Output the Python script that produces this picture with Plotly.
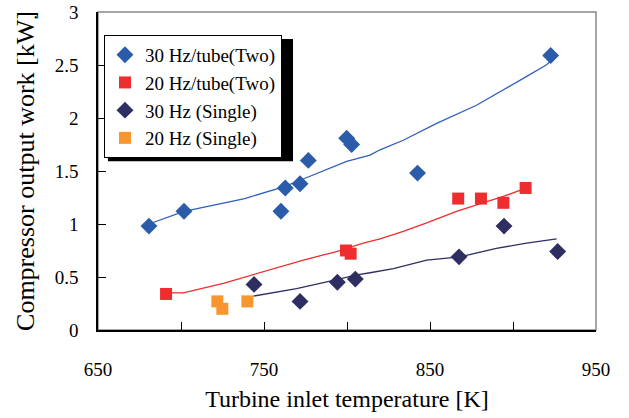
import plotly.graph_objects as go

# ---- data ----
t_30_two = [680.7, 701.8, 760.2, 762.8, 771.7, 776.7, 799.8, 802.8, 842.5, 922.7]
w_30_two = [0.98, 1.12, 1.12, 1.34, 1.38, 1.60, 1.81, 1.75, 1.48, 2.59]
t_20_two = [691.0, 799.4, 802.2, 867.0, 880.7, 894.2, 907.6]
w_20_two = [0.34, 0.75, 0.72, 1.24, 1.24, 1.20, 1.34]
t_30_single = [744.0, 771.7, 794.2, 805.0, 867.5, 894.6, 926.9]
w_30_single = [0.43, 0.27, 0.45, 0.48, 0.69, 0.98, 0.74]
t_20_single = [721.9, 724.9, 740.0]
w_20_single = [0.27, 0.20, 0.27]

# calculated curves
tc_30_two = [680.7, 701.8, 738.4, 761.8, 772.9, 799.8, 813.9, 819.9, 833.9, 854.0, 878.0, 894.0, 908.0, 920.0, 922.3]
wc_30_two = [1.00, 1.12, 1.24, 1.35, 1.42, 1.59, 1.65, 1.70, 1.79, 1.95, 2.12, 2.26, 2.39, 2.50, 2.53]
tc_20_two = [693.4, 701.4, 725.5, 749.6, 773.7, 793.7, 809.8, 819.9, 833.9, 848.0, 866.0, 880.0, 894.2, 906.2]
wc_20_two = [0.35, 0.35, 0.44, 0.55, 0.66, 0.74, 0.82, 0.86, 0.93, 1.01, 1.12, 1.19, 1.26, 1.33]
tc_30_single = [743.6, 769.6, 789.8, 805.9, 813.9, 828.0, 848.0, 868.0, 890.0, 908.2, 926.3]
wc_30_single = [0.32, 0.39, 0.46, 0.52, 0.54, 0.58, 0.66, 0.69, 0.77, 0.82, 0.86]

x_tickvals = [650, 700, 750, 800, 850, 900, 950]
x_ticktext = ["650", "", "750", "", "850", "", "950"]
y_tickvals = [0, 0.5, 1, 1.5, 2, 2.5, 3]
y_ticktext = ["0", "0.5", "1", "1.5", "2", "2.5", "3"]

c_blue = "#2A5CAA"
c_red = "#EE2E2E"
c_navy = "#2E2E62"
c_orange = "#F7962F"

FONT = "Liberation Serif, Times New Roman, serif"

fig = go.Figure()
fig.add_trace(go.Scatter(x=tc_30_two, y=wc_30_two, mode="lines",
                         line=dict(color="#2F5FBF", width=1.3), showlegend=False, hoverinfo="skip"))
fig.add_trace(go.Scatter(x=tc_20_two, y=wc_20_two, mode="lines",
                         line=dict(color="#EE2D2D", width=1.3), showlegend=False, hoverinfo="skip"))
fig.add_trace(go.Scatter(x=tc_30_single, y=wc_30_single, mode="lines",
                         line=dict(color=c_navy, width=1.3), showlegend=False, hoverinfo="skip"))

fig.add_trace(go.Scatter(x=t_30_two, y=w_30_two, mode="markers", name="30 Hz/tube(Two)",
                         marker=dict(symbol="diamond", size=13, color=c_blue)))
fig.add_trace(go.Scatter(x=t_20_two, y=w_20_two, mode="markers", name="20 Hz/tube(Two)",
                         marker=dict(symbol="square", size=12, color=c_red)))
fig.add_trace(go.Scatter(x=t_30_single, y=w_30_single, mode="markers", name="30 Hz (Single)",
                         marker=dict(symbol="diamond", size=13, color=c_navy)))
fig.add_trace(go.Scatter(x=t_20_single, y=w_20_single, mode="markers", name="20 Hz (Single)",
                         marker=dict(symbol="square", size=12, color=c_orange)))

# plot frame (grey top/right) and legend shadow
fig.add_shape(type="rect", xref="paper", yref="paper", x0=0, x1=1, y0=0, y1=1,
              line=dict(color="#888888", width=1.5), layer="below")
fig.add_shape(type="rect", xref="paper", yref="paper", x0=0.020, x1=0.3916, y0=0.531, y1=0.915,
              line=dict(width=0), fillcolor="black", layer="above")

fig.update_layout(
    width=629, height=418,
    margin=dict(l=98, r=33, t=12, b=88, autoexpand=False),
    paper_bgcolor="white", plot_bgcolor="white",
    font=dict(family=FONT, size=19, color="black"),
    legend=dict(x=0.012, y=0.928, xanchor="left", yanchor="top",
                bgcolor="white", bordercolor="black", borderwidth=1,
                font=dict(family=FONT, size=19, color="black"), itemwidth=30, tracegroupgap=0),
    xaxis=dict(range=[650, 950], tickvals=x_tickvals, ticktext=x_ticktext, automargin=False,
               ticks="inside", ticklen=8, tickcolor="black", showgrid=False, zeroline=False,
               showline=True, linecolor="black", linewidth=1.5, ticklabelstandoff=21,
               ticklabeloverflow="allow",
               tickfont=dict(family=FONT, size=19),
               title=dict(text="Turbine inlet temperature [K]", font=dict(family=FONT, size=24), standoff=12)),
    yaxis=dict(range=[0, 3], tickvals=y_tickvals, ticktext=y_ticktext, automargin=False,
               ticks="inside", ticklen=8, tickcolor="black", showgrid=False, zeroline=False,
               showline=True, linecolor="black", linewidth=1.5, ticklabelstandoff=14,
               ticklabeloverflow="allow",
               tickfont=dict(family=FONT, size=19),
               title=dict(text="Compressor output work [kW]", font=dict(family=FONT, size=26), standoff=13)),
)

fig.add_annotation(text="•", xref="paper", yref="paper", x=-0.1325, y=1.006,
                   showarrow=False, font=dict(size=10, color="black"))

# remove the default page margin so the figure sits at the window's top-left corner
fig.write_html("out.html", config={"displayModeBar": False},
               post_script="document.body.style.margin='0';")
